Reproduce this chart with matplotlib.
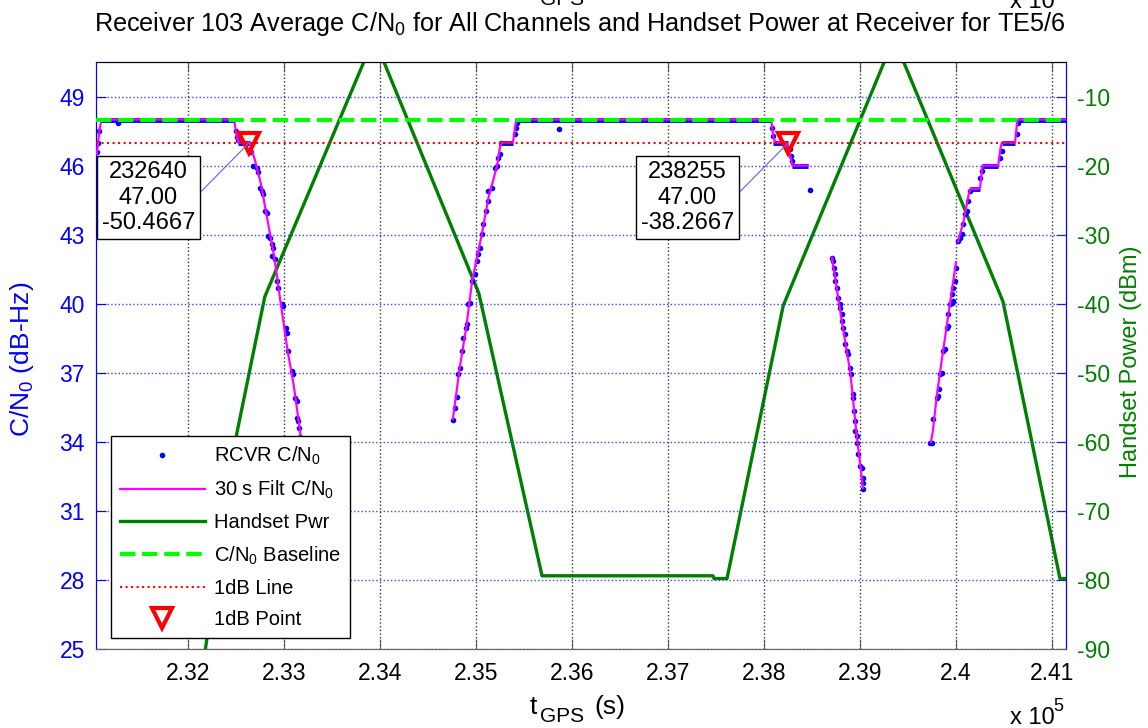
import numpy as np
import matplotlib.pyplot as plt

plt.rcParams['font.family'] = ['Liberation Sans', 'DejaVu Sans']
plt.rcParams['mathtext.fontset'] = 'custom'
plt.rcParams['mathtext.rm'] = 'Liberation Sans'
plt.rcParams['mathtext.it'] = 'Liberation Sans:italic'
plt.rcParams['mathtext.default'] = 'regular'
plt.rcParams['axes.unicode_minus'] = False

# handset power at receiver (dBm), piecewise ramps
pwr_t = [232150, 232510, 232800, 233938, 235030, 235688, 237469, 237480, 237615,
         238200, 239354, 240490, 241083, 241146]
pwr_dbm = [-93.0, -58.7, -39.0, -1.5, -38.5, -79.4, -79.4, -79.8, -79.8,
           -40.3, -1.6, -39.7, -79.8, -79.8]

# receiver C/N0 samples where it holds a constant level
hold_start = [231090, 232521, 235250, 235406, 238094, 238292, 240146, 240271, 240479, 240646]
hold_end = [232490, 232646, 235385, 238073, 238250, 238458, 240250, 240438, 240615, 241146]
hold_cn = [48, 47, 47, 48, 47, 46, 45, 46, 47, 48]

# receiver C/N0 samples in the transitions
raw_t = [231050, 231060, 231075, 231271,
         232500, 232510, 232521, 232660, 232677, 232719, 232729, 232750, 232771, 232781,
         232802, 232823, 232833, 232854, 232875, 232885, 232875, 232906, 232927, 232938,
         232979, 232990, 233021, 233031, 233042, 233083, 233094, 233115, 233135, 233135,
         233146, 233156, 233170, 233185,
         234760, 234781, 234802, 234813, 234833, 234854, 234865, 234896, 234906, 234917,
         234938, 234958, 234990, 235010, 235021, 235042, 235063, 235073, 235104, 235125,
         235125, 235167, 235198, 235219, 235229, 235250, 235260, 235406, 235417, 235427,
         235865,
         238083, 238094, 238271, 238281, 238292, 238479,
         238708, 238719, 238729, 238740, 238740, 238760, 238771, 238792, 238792, 238813,
         238813, 238823, 238844, 238844, 238865, 238875, 238896, 238906, 238927, 238927,
         238938, 238948, 238948, 238969, 238969, 238979, 239000, 239021, 239031, 239031,
         239031,
         239729, 239750, 239760, 239802, 239813, 239823, 239833, 239854, 239865, 239885,
         239906, 239917, 239917, 239938, 239958, 239969, 239958, 239969, 239990, 240000,
         240021, 240042, 240063, 240073, 240094, 240115, 240125, 240146, 240250, 240271,
         240458, 240479, 240635, 240646]
raw_cn = [46.6, 47.0, 47.5, 47.87,
          47.52, 47.26, 47.09, 46.6, 46.0, 45.91, 45.70, 45.04, 44.91, 44.78,
          44.04, 43.96, 42.96, 42.87, 42.61, 42.43, 42.09, 41.96, 41.0, 40.70,
          40.0, 39.91, 38.96, 38.74, 37.96, 37.09, 36.96, 35.91, 35.78, 35.04,
          34.91, 34.61, 34.2, 33.7,
          34.96, 35.48, 35.96, 36.96, 37.22, 37.96, 38.52, 38.96, 39.13, 40.0,
          40.04, 41.0, 41.30, 41.87, 42.17, 42.43, 43.04, 43.48, 44.04, 44.48,
          44.91, 45.04, 45.91, 46.0, 46.35, 46.52, 47.0, 47.39, 47.65, 47.87,
          47.6,
          47.65, 47.3, 46.74, 46.43, 46.22, 44.96,
          42.0, 41.87, 41.57, 41.30, 41.0, 40.70, 40.26, 40.0, 39.83, 39.57,
          39.26, 38.96, 38.70, 38.26, 37.96, 37.83, 37.22, 36.96, 36.09, 35.91,
          35.35, 34.91, 34.48, 34.26, 33.96, 33.48, 32.96, 32.87, 32.43, 32.22,
          31.96,
          33.96, 33.96, 35.0, 35.91, 36.0, 36.30, 36.96, 37.0, 37.96, 38.04,
          38.96, 39.04, 39.57, 40.0, 40.04, 40.13, 40.43, 40.70, 41.0, 41.57,
          42.74, 42.87, 43.04, 43.48, 43.91, 44.04, 44.48, 44.91, 45.48, 45.78,
          46.35, 46.65, 47.39, 47.83]

# 30 s filtered C/N0 (nan = data gap)
filt_t = [231050, 231080, 231100, 232480, 232510, 232530, 232640, 232700, 232760, 232830,
          232900, 232960, 233040, 233100, 233150, 233200, np.nan,
          234760, 234830, 234900, 234960, 235060, 235130, 235220, 235250, 235265, 235385,
          235420, 238075, 238100, 238120, 238240, 238280, 238295, 238458, np.nan,
          238708, 238760, 238820, 238900, 238960, 239031, np.nan,
          239740, 239760, 239800, 239850, 239920, 240000, np.nan,
          240021, 240080, 240130, 240150, 240250, 240275, 240440, 240465, 240480, 240615,
          240640, 241146]
filt_cn = [46.5, 47.6, 48.0, 48.0, 47.2, 47.0, 47.0, 46.2, 45.2, 43.6,
           42.0, 40.2, 37.9, 36.5, 35.0, 33.4, np.nan,
           35.0, 37.2, 39.0, 41.0, 43.0, 44.6, 46.0, 46.8, 47.0, 47.0,
           48.0, 48.0, 47.2, 47.0, 47.0, 46.3, 46.0, 46.0, np.nan,
           42.0, 40.6, 39.0, 37.0, 34.5, 32.0, np.nan,
           34.0, 34.5, 36.0, 37.5, 39.5, 41.8, np.nan,
           42.7, 43.6, 44.7, 45.0, 45.0, 46.0, 46.0, 46.8, 47.0, 47.0,
           48.0, 48.0]

baseline_cn = 48.0
onedb_cn = 47.0
onedb_t = [232640, 238255]
onedb_pwr = [-50.4667, -38.2667]

xticks = [232000, 233000, 234000, 235000, 236000, 237000, 238000, 239000, 240000, 241000]
cn_ticks = [25, 28, 31, 34, 37, 40, 43, 46, 49]
pwr_ticks = [-90, -80, -70, -60, -50, -40, -30, -20, -10]

blue = '#0000ff'
green = '#008000'
W, H = 1148, 728

fig = plt.figure(figsize=(W / 100, H / 100), dpi=100)
ax1 = fig.add_axes([96 / W, 79 / H, 970 / W, 587 / H])
ax2 = ax1.twinx()
ax1.set_zorder(ax2.get_zorder() + 1)
ax1.patch.set_visible(False)

h_pwr, = ax2.plot(pwr_t, pwr_dbm, color=green, lw=2.4)
ax2.set_ylim(-90, -5)

ax1.hlines(hold_cn, hold_start, hold_end, color=blue, lw=3.5, zorder=2)
h_raw, = ax1.plot(raw_t, raw_cn, ls='none', marker='.', ms=6, color=blue, zorder=2)
h_filt, = ax1.plot(filt_t, filt_cn, color='#ff00ff', lw=1.6, zorder=3)
h_base = ax1.axhline(baseline_cn, color='#00ff00', ls='--', lw=3, zorder=4)
h_1db = ax1.axhline(onedb_cn, color='#ff0000', ls=':', lw=1.5, zorder=4)
h_pt, = ax1.plot(onedb_t, [onedb_cn] * len(onedb_t), ls='none', marker='v', ms=14,
                 mfc='none', mec='#ff0000', mew=3, zorder=5)

for t, p in zip(onedb_t, onedb_pwr):
    ax1.annotate('%d\n%.2f\n%.4f' % (t, onedb_cn, p), xy=(t, onedb_cn),
                 xytext=(-101, -55), textcoords='offset pixels',
                 ha='center', va='center', multialignment='center', fontsize=17,
                 linespacing=1.2, zorder=6,
                 bbox=dict(boxstyle='square,pad=0.2', fc='white', ec='black', lw=1),
                 arrowprops=dict(arrowstyle='-', color='#6060ff', lw=0.8,
                                 shrinkA=0, shrinkB=0, patchA=None, relpos=(1, 0.5)))

ax1.set_xlim(231042, 241146)
ax1.set_ylim(25, 50.5)
ax1.set_xticks(xticks)
ax1.set_xticklabels(['%g' % (v / 1e5) for v in xticks])
ax1.set_yticks(cn_ticks)
ax2.set_yticks(pwr_ticks)
ax2.set_yticklabels([str(v) for v in pwr_ticks])

ax1.tick_params(axis='x', direction='in', length=7, top=True, color='#555555',
                labelsize=16.5, pad=9)
ax1.tick_params(axis='y', direction='in', length=7, color=blue, labelcolor=blue,
                labelsize=16.5, pad=8, right=False)
ax2.tick_params(axis='y', direction='in', length=7, color=blue, labelcolor=green,
                labelsize=16.5, pad=8)
ax1.xaxis.grid(True, color='#333333', ls=':', lw=1)
ax1.yaxis.grid(True, color='#4040ff', ls=':', lw=1)

for ax in (ax1, ax2):
    ax.spines['left'].set_color(blue)
    ax.spines['right'].set_color(blue)
    ax.spines['top'].set_color('black')
    ax.spines['bottom'].set_color('#666666')

leg = ax1.legend([h_raw, h_filt, h_pwr, h_base, h_1db, h_pt],
                 ['RCVR C/N$_0$', '30 s Filt C/N$_0$', 'Handset Pwr',
                  'C/N$_0$ Baseline', '1dB Line', '1dB Point'],
                 loc='lower left', bbox_to_anchor=(15 / 970, 11 / 587), borderaxespad=0,
                 fontsize=14.5, handlelength=4.2, handletextpad=0.45, labelspacing=0.6,
                 borderpad=0.45, numpoints=1, fancybox=False, framealpha=1,
                 edgecolor='black')
leg.get_frame().set_linewidth(1)
leg.set_zorder(10)

fig.text(580 / W, 1 - 31 / H, 'Receiver 103 Average C/N$_0$ for All Channels and Handset '
         'Power at Receiver for TE5/6', ha='center', va='baseline', fontsize=18.2)

# x label built MATLAB-style with a dropped subscript
fig.text(530 / W, 14 / H, 't', ha='left', va='baseline', fontsize=19)
fig.text(540 / W, 6 / H, 'GPS', ha='left', va='baseline', fontsize=15)
fig.text(594 / W, 14 / H, '(s)', ha='left', va='baseline', fontsize=19)
fig.text(1010 / W, 4 / H, 'x 10', ha='left', va='baseline', fontsize=17)
fig.text(1053 / W, 17 / H, '5', ha='left', va='baseline', fontsize=13)
# clipped copies of the x label and exponent at the top edge
fig.text(540 / W, 1 - 5 / H, 'GPS', ha='left', va='baseline', fontsize=15)
fig.text(1010 / W, 1 - 8 / H, 'x 10', ha='left', va='baseline', fontsize=17)

fig.text(22 / W, 1 - 359 / H, 'C/N$_0$ (dB-Hz)', rotation=90, ha='center', va='center',
         color=blue, fontsize=19)
fig.text(1131 / W, 1 - 362 / H, 'Handset Power (dBm)', rotation=90, ha='center',
         va='center', color=green, fontsize=17)

fig.savefig('out.png', dpi=100)
